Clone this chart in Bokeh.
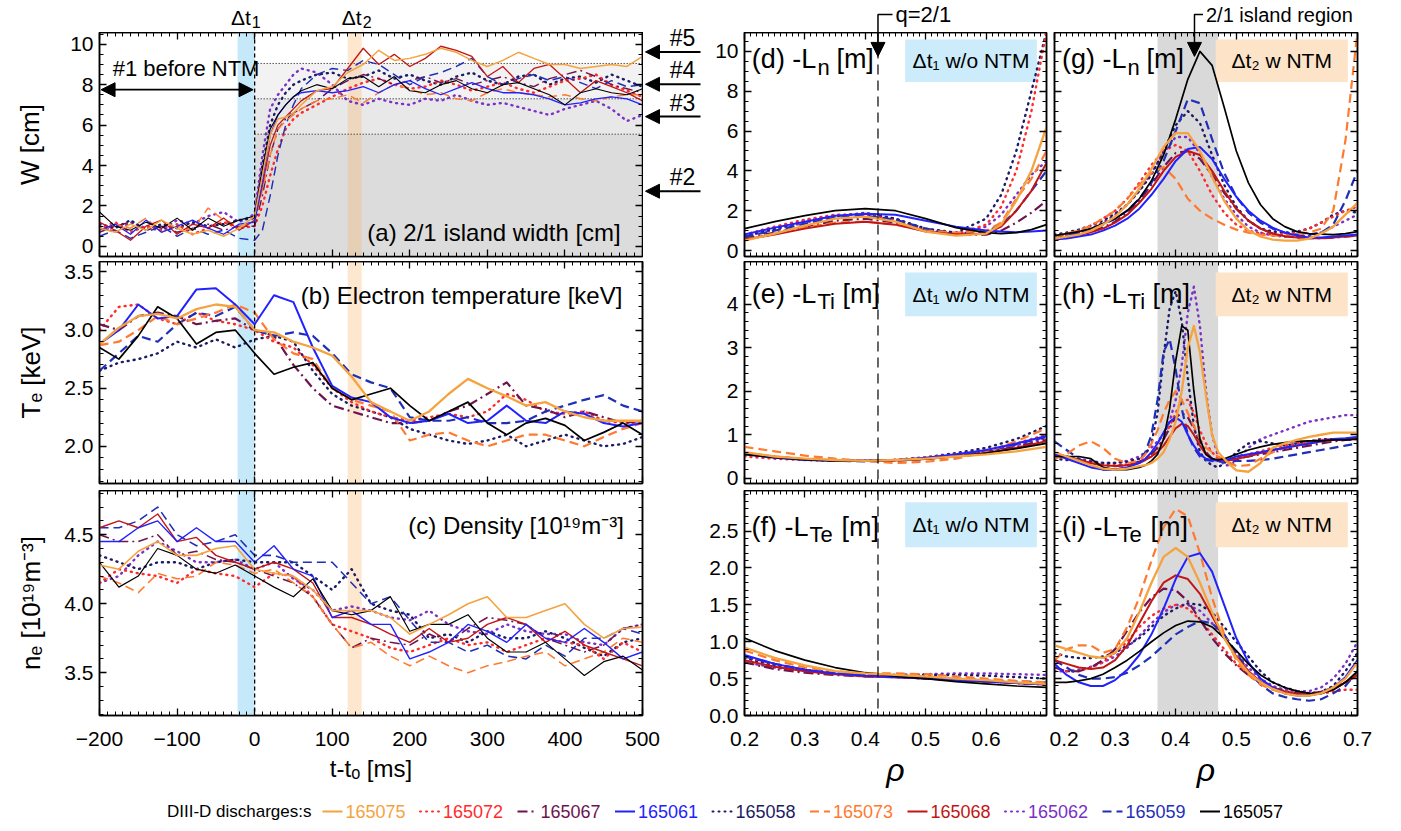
import numpy as np
from bokeh.plotting import figure
from bokeh.models import (Range1d, LinearAxis, FixedTicker, BoxAnnotation, Span, Label,
                          Arrow, NormalHead, PrintfTickFormatter)
from bokeh.layouts import column, row
from bokeh.embed import file_html
from bokeh.resources import INLINE

# ---------------------------------------------------------------- data
SHOTS = ["165075", "165072", "165067", "165061", "165058",
         "165073", "165068", "165062", "165059", "165057"]

# (a) island width W [cm] vs t-t0 [ms]
T_A = [-200, -180, -160, -140, -120, -100, -80, -60, -40, -20, 0, 10, 20, 30, 40, 50,
       60, 80, 100, 120, 140, 160, 180, 200, 220, 240, 260, 280, 300, 320, 340, 360,
       380, 400, 420, 440, 460, 480, 500]
A_165075 = [0.9, 0.7, 1.1, 0.8, 1.3, 0.9, 0.6, 0.8, 0.5, 0.9, 1.5, 3.5, 5.5, 6.3, 6.4, 6.6,
            7.0, 7.7, 7.9, 8.6, 9.0, 9.7, 9.2, 9.3, 9.5, 9.8, 9.6, 9.2, 8.9, 9.2, 9.6, 9.3,
            9.0, 9.0, 8.8, 8.9, 9.0, 8.9, 9.4]
A_165068 = [1.2, 0.8, 0.3, 1.0, 1.3, 0.6, 1.1, 0.9, 1.4, 0.8, 1.3, 3.0, 5.0, 6.0, 6.4, 6.8,
            7.2, 7.7, 7.8, 8.8, 9.8, 9.0, 9.5, 8.9, 9.3, 9.9, 9.7, 9.4, 8.4, 8.9, 8.1, 8.8,
            9.0, 8.3, 7.6, 8.2, 7.9, 7.6, 7.2]
A_165057 = [1.7, 1.0, 0.8, 1.2, 0.9, 1.4, 0.8, 1.4, 1.0, 1.3, 1.5, 3.8, 5.8, 6.5, 7.0, 7.4,
            7.7, 8.0, 7.8, 8.3, 8.4, 7.9, 8.4, 7.7, 7.6, 8.0, 8.2, 7.8, 7.6, 8.0, 8.1, 7.8,
            7.5, 7.0, 7.6, 7.8, 7.6, 7.5, 7.8]
A_165061 = [0.8, 1.1, 0.6, 1.3, 0.7, 1.0, 1.3, 0.9, 0.6, 1.1, 1.2, 3.2, 5.5, 6.5, 7.0, 7.4,
            7.6, 7.7, 7.6, 7.7, 7.9, 7.6, 8.0, 8.2, 7.8, 7.5, 7.8, 8.1, 7.8, 7.6, 7.6, 7.5,
            7.3, 7.0, 7.1, 7.3, 7.4, 7.3, 7.0]
A_165062 = [1.0, 0.7, 1.2, 0.9, 0.8, 1.3, 1.1, 1.5, 1.7, 1.2, 1.6, 4.5, 6.8, 7.5, 8.0, 8.5,
            8.8, 8.6, 8.0, 7.2, 7.0, 7.3, 7.1, 7.0, 7.3, 7.2, 7.5, 7.2, 7.0, 7.1, 6.9, 6.7,
            6.5, 6.8, 7.0, 7.2, 6.8, 6.2, 6.5]
A_165059 = [0.5, 0.8, 0.4, 0.7, 1.0, 0.5, 0.9, 0.6, 0.8, 0.4, 0.3, 0.8, 2.5, 4.5, 6.0, 7.0,
            7.8, 8.5, 8.8, 8.7, 9.2, 9.0, 8.5, 8.0, 8.4, 8.6, 8.9, 9.3, 8.4, 8.0, 8.3, 8.5,
            8.2, 8.4, 8.1, 7.8, 8.2, 7.9, 8.0]
A_165058 = [1.1, 0.9, 1.3, 0.8, 1.1, 0.9, 1.2, 1.0, 1.1, 1.3, 1.4, 4.0, 6.0, 7.0, 7.6, 8.0,
            8.2, 8.5, 8.6, 8.3, 8.4, 8.7, 8.3, 8.5, 8.2, 8.0, 8.4, 8.6, 8.2, 8.0, 8.4, 8.5,
            8.0, 8.3, 8.4, 8.1, 8.5, 8.2, 7.9]
A_165067 = [0.7, 1.0, 1.2, 0.8, 1.0, 0.7, 0.9, 1.1, 0.8, 1.0, 1.0, 2.5, 4.5, 5.8, 6.3, 6.6,
            6.8, 7.2, 7.8, 8.2, 8.5, 8.3, 8.0, 8.2, 8.4, 8.1, 8.3, 8.0, 8.2, 8.4, 8.1, 7.9,
            8.3, 8.5, 8.7, 8.4, 8.0, 7.8, 7.6]
A_165072 = [0.9, 1.2, 0.7, 1.0, 0.8, 1.1, 0.6, 0.9, 1.2, 0.9, 1.0, 2.0, 3.5, 4.8, 5.8, 6.3,
            6.6, 7.0, 7.4, 7.8, 8.1, 8.3, 8.0, 7.8, 7.9, 8.2, 8.0, 7.7, 7.9, 8.1, 7.8, 7.6,
            7.9, 8.2, 8.3, 8.5, 8.0, 7.7, 7.4]
A_165073 = [0.8, 1.1, 0.9, 1.4, 0.7, 1.0, 0.8, 1.9, 1.3, 1.0, 1.2, 2.8, 4.5, 5.8, 6.2, 6.5,
            6.8, 7.2, 7.3, 7.5, 7.1, 7.6, 8.0, 7.8, 7.5, 7.6, 7.3, 7.2, 7.6, 7.8, 7.6, 7.5,
            7.4, 7.5, 7.3, 7.2, 7.4, 7.5, 7.5]
W_LEVELS = [5.55, 7.3, 9.05]          # island-width class limits (dotted)
CLASS_MARKS = [("#5", 9.62), ("#4", 8.02), ("#3", 6.42), ("#2", 2.73)]

# (b) Te [keV] and (c) ne [1e19 m^-3]
T_BC = [-200, -175, -150, -125, -100, -75, -50, -25, 0, 25, 50, 75, 100, 125, 150, 175,
        200, 225, 250, 275, 300, 325, 350, 375, 400, 425, 450, 475, 500]
B_165061 = [2.88, 3.0, 3.22, 3.1, 3.12, 3.35, 3.36, 3.22, 3.05, 3.3, 3.24, 2.85, 2.52, 2.42, 2.38,
            2.25, 2.2, 2.22, 2.28, 2.2, 2.22, 2.35, 2.22, 2.2, 2.3, 2.28, 2.2, 2.17, 2.2]
B_165075 = [2.88, 3.02, 3.12, 3.14, 3.1, 3.18, 3.22, 3.2, 3.0, 2.98, 2.9, 2.85, 2.78, 2.6, 2.38,
            2.3, 2.22, 2.3, 2.45, 2.58, 2.5, 2.43, 2.35, 2.38, 2.3, 2.25, 2.22, 2.22, 2.22]
B_165057 = [2.85, 2.75, 2.95, 3.2, 3.1, 2.88, 2.98, 3.0, 2.8, 2.62, 2.68, 2.72, 2.5, 2.4, 2.45,
            2.5, 2.35, 2.22, 2.3, 2.38, 2.2, 2.1, 2.2, 2.24, 2.18, 2.05, 2.12, 2.2, 2.1]
B_165059 = [2.65, 2.8, 2.95, 2.9, 3.05, 3.15, 3.12, 3.2, 3.0, 2.95, 2.98, 2.95, 2.8, 2.62, 2.55,
            2.5, 2.25, 2.22, 2.22, 2.25, 2.2, 2.2, 2.22, 2.3, 2.35, 2.4, 2.44, 2.35, 2.3]
B_165073 = [2.87, 2.9, 3.0, 3.12, 3.05, 3.1, 3.15, 3.22, 3.15, 2.92, 2.8, 2.75, 2.5, 2.4, 2.35,
            2.3, 2.05, 2.1, 2.12, 2.05, 2.0, 2.05, 2.1, 2.1, 2.05, 2.0, 2.08, 2.15, 2.2]
B_165067 = [3.05, 3.0, 3.12, 3.15, 3.12, 3.05, 3.08, 3.1, 3.0, 2.95, 2.7, 2.5, 2.35, 2.3, 2.25,
            2.2, 2.2, 2.22, 2.3, 2.35, 2.45, 2.55, 2.35, 2.32, 2.25, 2.3, 2.25, 2.2, 2.22]
B_165072 = [3.0, 3.2, 3.22, 3.1, 3.05, 3.15, 3.08, 3.05, 3.0, 2.9, 2.85, 2.7, 2.5, 2.38, 2.3,
            2.25, 2.22, 2.25, 2.28, 2.25, 2.3, 2.45, 2.4, 2.3, 2.28, 2.3, 2.22, 2.2, 2.2]
B_165058 = [2.65, 2.72, 2.75, 2.8, 2.9, 2.85, 2.92, 2.85, 2.92, 2.95, 2.9, 2.65, 2.45, 2.35, 2.3,
            2.25, 2.15, 2.1, 2.05, 2.02, 2.05, 2.1, 2.0, 2.05, 2.1, 2.05, 2.0, 2.02, 2.08]

C_165068 = [4.55, 4.6, 4.55, 4.65, 4.45, 4.48, 4.35, 4.3, 4.25, 4.3, 4.25, 4.15, 3.9, 3.9, 3.85,
            3.78, 3.72, 3.82, 3.72, 3.75, 3.85, 3.9, 3.85, 3.72, 3.8, 3.7, 3.65, 3.6, 3.55]
C_165061 = [4.45, 4.45, 4.55, 4.6, 4.45, 4.55, 4.45, 4.45, 4.3, 4.42, 4.25, 4.2, 3.9, 3.95, 3.85,
            3.85, 3.6, 3.65, 3.72, 3.85, 3.8, 3.72, 3.85, 3.75, 3.72, 3.82, 3.72, 3.6, 3.65]
C_165059 = [4.55, 4.55, 4.6, 4.7, 4.5, 4.42, 4.45, 4.5, 4.35, 4.35, 4.3, 4.3, 4.3, 4.15, 4.0,
            4.05, 3.88, 3.72, 3.72, 3.65, 3.7, 3.62, 3.6, 3.7, 3.62, 3.75, 3.75, 3.82, 3.78]
C_165075 = [4.28, 4.25, 4.38, 4.45, 4.35, 4.35, 4.4, 4.42, 4.25, 4.22, 4.2, 4.1, 3.95, 3.95, 3.95,
            3.9, 3.78, 3.85, 3.92, 4.0, 4.05, 3.9, 3.9, 3.95, 4.0, 3.85, 3.75, 3.82, 3.83]
C_165057 = [4.3, 4.12, 4.2, 4.4, 4.35, 4.25, 4.22, 4.28, 4.2, 4.12, 4.05, 4.18, 3.95, 3.92, 3.95,
            4.05, 3.8, 3.85, 3.85, 3.92, 3.75, 3.65, 3.65, 3.72, 3.6, 3.48, 3.58, 3.62, 3.52]
C_165073 = [4.2, 4.15, 4.08, 4.22, 4.18, 4.2, 4.3, 4.28, 4.22, 4.25, 4.15, 4.05, 3.85, 3.68, 3.72,
            3.62, 3.55, 3.62, 3.55, 3.5, 3.55, 3.58, 3.62, 3.65, 3.55, 3.6, 3.65, 3.75, 3.72]
C_165067 = [4.5, 4.45, 4.45, 4.5, 4.35, 4.38, 4.32, 4.3, 4.25, 4.2, 4.15, 4.05, 3.85, 3.68, 3.75,
            3.72, 3.7, 3.78, 3.72, 3.82, 3.9, 3.88, 3.85, 3.75, 3.7, 3.65, 3.7, 3.82, 3.85]
C_165072 = [4.15, 4.25, 4.22, 4.2, 4.15, 4.25, 4.22, 4.2, 4.12, 4.22, 4.2, 4.05, 3.85, 3.8, 3.75,
            3.68, 3.65, 3.7, 3.75, 3.7, 3.72, 3.65, 3.7, 3.75, 3.72, 3.7, 3.6, 3.72, 3.65]
C_165058 = [4.35, 4.3, 4.25, 4.3, 4.3, 4.25, 4.3, 4.32, 4.3, 4.3, 4.3, 4.2, 4.1, 4.25, 4.0,
            3.95, 3.92, 3.75, 3.78, 3.72, 3.8, 3.75, 3.75, 3.8, 3.75, 3.68, 3.62, 3.72, 3.75]
C_165062 = [4.15, 4.2, 4.35, 4.45, 4.38, 4.3, 4.3, 4.32, 4.25, 4.3, 4.18, 4.1, 3.95, 3.98, 3.95,
            3.9, 3.88, 3.95, 3.85, 3.8, 3.78, 3.85, 3.8, 3.78, 3.78, 3.72, 3.7, 3.82, 3.85]

# (d) -Ln [m] during dt1 (without NTM)
RHO_D = [0.20, 0.25, 0.30, 0.35, 0.40, 0.45, 0.50, 0.55, 0.60, 0.625, 0.65, 0.675, 0.70]
D_165057 = [1.1, 1.45, 1.75, 2.0, 2.1, 2.0, 1.6, 1.15, 0.9, 0.85, 0.9, 1.05, 1.3]
D_165061 = [0.8, 1.15, 1.45, 1.75, 1.85, 1.8, 1.5, 1.2, 1.0, 0.95, 0.92, 0.95, 1.0]
D_165075 = [0.5, 0.85, 1.25, 1.6, 1.7, 1.45, 0.95, 0.75, 0.85, 1.3, 2.5, 4.0, 6.2]
D_165068 = [0.55, 0.8, 1.1, 1.35, 1.45, 1.3, 0.95, 0.8, 0.85, 1.2, 2.0, 3.0, 4.4]
D_165072 = [0.8, 1.2, 1.55, 1.8, 1.8, 1.5, 1.0, 0.8, 1.3, 2.2, 4.0, 7.0, 11.0]
D_165058 = [0.75, 1.1, 1.5, 1.75, 1.85, 1.6, 1.1, 0.9, 1.6, 2.8, 5.0, 8.0, 11.0]
D_165062 = [0.7, 1.05, 1.4, 1.7, 1.9, 1.6, 1.0, 0.85, 1.2, 1.8, 2.8, 3.8, 4.5]
D_165067 = [0.6, 0.9, 1.2, 1.5, 1.6, 1.4, 1.0, 0.8, 0.8, 1.0, 1.4, 1.9, 2.5]
D_165073 = [0.55, 0.85, 1.15, 1.4, 1.45, 1.3, 1.0, 0.9, 1.0, 1.4, 2.6, 3.6, 5.0]
D_165059 = [0.7, 1.0, 1.35, 1.65, 1.75, 1.55, 1.1, 0.85, 0.95, 1.3, 2.0, 3.0, 4.0]

# (e) -LTi [m] and (f) -LTe [m] during dt1
RHO_EF = [0.20, 0.25, 0.30, 0.35, 0.40, 0.45, 0.50, 0.55, 0.60, 0.65, 0.70]
E_165057 = [0.55, 0.48, 0.43, 0.4, 0.4, 0.42, 0.45, 0.5, 0.58, 0.68, 0.8]
E_165061 = [0.55, 0.47, 0.42, 0.4, 0.4, 0.42, 0.47, 0.55, 0.65, 0.8, 0.97]
E_165075 = [0.6, 0.5, 0.45, 0.42, 0.4, 0.42, 0.45, 0.5, 0.55, 0.62, 0.72]
E_165072 = [0.5, 0.45, 0.42, 0.4, 0.4, 0.42, 0.48, 0.55, 0.65, 0.8, 1.0]
E_165058 = [0.55, 0.48, 0.43, 0.4, 0.4, 0.42, 0.48, 0.58, 0.7, 0.9, 1.2]
E_165073 = [0.72, 0.62, 0.52, 0.45, 0.4, 0.35, 0.38, 0.45, 0.6, 0.85, 1.15]
E_165068 = [0.58, 0.5, 0.44, 0.41, 0.4, 0.41, 0.44, 0.5, 0.58, 0.7, 0.85]
E_165062 = [0.56, 0.49, 0.44, 0.41, 0.4, 0.42, 0.46, 0.53, 0.62, 0.76, 0.92]
E_165067 = [0.57, 0.49, 0.44, 0.41, 0.4, 0.41, 0.45, 0.51, 0.6, 0.72, 0.88]
E_165059 = [0.56, 0.48, 0.43, 0.4, 0.39, 0.4, 0.44, 0.52, 0.62, 0.78, 0.95]

F_165057 = [1.05, 0.88, 0.75, 0.65, 0.58, 0.53, 0.5, 0.46, 0.43, 0.4, 0.38]
F_165075 = [0.92, 0.78, 0.68, 0.6, 0.57, 0.55, 0.53, 0.5, 0.48, 0.45, 0.43]
F_165068 = [0.75, 0.66, 0.6, 0.56, 0.53, 0.52, 0.5, 0.48, 0.46, 0.44, 0.42]
F_165061 = [0.82, 0.7, 0.62, 0.57, 0.54, 0.52, 0.5, 0.48, 0.46, 0.44, 0.42]
F_165059 = [0.8, 0.7, 0.62, 0.57, 0.55, 0.53, 0.52, 0.5, 0.48, 0.46, 0.45]
F_165062 = [0.72, 0.65, 0.6, 0.57, 0.55, 0.55, 0.56, 0.57, 0.57, 0.56, 0.55]
F_165058 = [0.78, 0.68, 0.62, 0.58, 0.56, 0.55, 0.55, 0.55, 0.54, 0.52, 0.5]
F_165072 = [0.8, 0.7, 0.62, 0.57, 0.55, 0.53, 0.5, 0.48, 0.46, 0.44, 0.42]
F_165073 = [0.88, 0.75, 0.65, 0.6, 0.57, 0.57, 0.56, 0.53, 0.5, 0.47, 0.45]
F_165067 = [0.72, 0.63, 0.58, 0.55, 0.53, 0.52, 0.5, 0.48, 0.46, 0.44, 0.42]

# (g) -Ln and (i) -LTe during dt2 (with NTM)
RHO_GI = [0.20, 0.22, 0.24, 0.26, 0.28, 0.30, 0.32, 0.34, 0.36, 0.38, 0.40, 0.42, 0.44,
          0.46, 0.48, 0.50, 0.52, 0.54, 0.56, 0.58, 0.60, 0.62, 0.64, 0.66, 0.68, 0.70]
G_165057 = [0.75, 0.85, 0.95, 1.1, 1.35, 1.6, 2.0, 2.6, 3.5, 4.8, 6.6, 8.6, 10.0, 9.3, 7.2, 5.0,
            3.4, 2.3, 1.6, 1.2, 0.95, 0.85, 0.82, 0.8, 0.85, 0.95]
G_165061 = [0.55, 0.6, 0.7, 0.8, 1.0, 1.25, 1.6, 2.1, 2.8, 3.6, 4.5, 5.1, 5.2, 4.6, 3.6, 2.7,
            2.0, 1.5, 1.15, 0.9, 0.75, 0.65, 0.65, 0.7, 0.75, 0.8]
G_165075 = [0.6, 0.7, 0.8, 1.0, 1.3, 1.7, 2.3, 3.1, 4.1, 5.2, 5.9, 5.9, 5.0, 3.7, 2.5, 1.6,
            1.0, 0.7, 0.55, 0.5, 0.5, 0.6, 0.85, 1.2, 1.8, 2.4]
G_165059 = [0.7, 0.8, 0.9, 1.05, 1.3, 1.6, 2.0, 2.6, 3.4, 4.5, 6.0, 7.6, 7.4, 5.6, 3.9, 2.7,
            1.9, 1.4, 1.1, 0.9, 0.8, 0.8, 0.9, 1.3, 2.5, 4.0]
G_165058 = [0.8, 0.9, 1.05, 1.25, 1.5, 1.85, 2.3, 3.0, 3.8, 5.0, 6.3, 7.0, 6.4, 4.8, 3.3, 2.2,
            1.5, 1.1, 0.95, 0.9, 0.95, 1.1, 1.4, 1.8, 2.0, 1.9]
G_165072 = [0.7, 0.85, 1.0, 1.25, 1.6, 2.0, 2.6, 3.4, 4.3, 5.0, 5.3, 5.0, 4.0, 2.8, 1.9, 1.3,
            1.0, 0.85, 0.8, 0.82, 0.9, 1.1, 1.4, 1.7, 2.0, 2.2]
G_165062 = [0.65, 0.75, 0.9, 1.1, 1.4, 1.8, 2.3, 3.0, 3.9, 4.9, 5.7, 5.7, 4.9, 3.7, 2.6, 1.8,
            1.2, 0.9, 0.75, 0.7, 0.7, 0.75, 0.9, 1.2, 1.5, 1.8]
G_165067 = [0.6, 0.7, 0.8, 0.95, 1.15, 1.45, 1.9, 2.5, 3.3, 4.2, 4.9, 5.0, 4.6, 3.8, 2.9, 2.1,
            1.5, 1.1, 0.85, 0.72, 0.65, 0.62, 0.62, 0.65, 0.7, 0.75]
G_165073 = [0.7, 0.85, 1.0, 1.25, 1.6, 2.0, 2.6, 3.3, 3.9, 4.2, 3.6, 2.6, 2.0, 1.6, 1.3, 1.05,
            0.9, 0.8, 0.75, 0.75, 0.8, 0.9, 1.1, 2.0, 5.5, 11.0]
G_165068 = [0.6, 0.68, 0.78, 0.92, 1.1, 1.4, 1.8, 2.4, 3.1, 4.0, 4.7, 5.0, 4.8, 4.0, 3.0, 2.1,
            1.5, 1.1, 0.85, 0.72, 0.65, 0.62, 0.62, 0.65, 0.7, 0.75]

I_165057 = [0.45, 0.45, 0.47, 0.5, 0.56, 0.65, 0.75, 0.87, 1.0, 1.12, 1.22, 1.28, 1.27, 1.2,
            1.05, 0.88, 0.7, 0.55, 0.45, 0.38, 0.33, 0.3, 0.3, 0.35, 0.45, 0.6]
I_165061 = [0.7, 0.55, 0.45, 0.4, 0.4, 0.48, 0.62, 0.82, 1.1, 1.45, 1.85, 2.15, 2.2, 1.95,
            1.5, 1.05, 0.72, 0.5, 0.38, 0.3, 0.27, 0.27, 0.3, 0.38, 0.52, 0.75]
I_165075 = [0.95, 0.9, 0.85, 0.8, 0.78, 0.85, 1.05, 1.4, 1.8, 2.15, 2.27, 2.15, 1.8, 1.4,
            1.05, 0.78, 0.58, 0.45, 0.36, 0.3, 0.27, 0.27, 0.3, 0.38, 0.5, 0.72]
I_165073 = [0.75, 0.9, 0.95, 0.95, 0.85, 0.9, 1.2, 1.6, 2.1, 2.55, 2.8, 2.7, 2.2, 1.6,
            1.1, 0.75, 0.55, 0.42, 0.35, 0.3, 0.28, 0.28, 0.3, 0.35, 0.45, 0.55]
I_165068 = [0.75, 0.7, 0.65, 0.63, 0.65, 0.75, 0.95, 1.25, 1.55, 1.8, 1.9, 1.85, 1.65, 1.35,
            1.05, 0.8, 0.6, 0.46, 0.38, 0.32, 0.29, 0.28, 0.3, 0.35, 0.45, 0.55]
I_165067 = [0.65, 0.6, 0.6, 0.65, 0.75, 0.9, 1.15, 1.4, 1.6, 1.72, 1.7, 1.55, 1.3, 1.05,
            0.85, 0.68, 0.55, 0.45, 0.38, 0.33, 0.3, 0.3, 0.32, 0.38, 0.45, 0.55]
I_165058 = [0.85, 0.8, 0.78, 0.78, 0.8, 0.85, 0.95, 1.05, 1.2, 1.35, 1.45, 1.52, 1.5, 1.4,
            1.2, 1.0, 0.8, 0.6, 0.45, 0.38, 0.33, 0.3, 0.32, 0.4, 0.6, 0.85]
I_165062 = [0.6, 0.6, 0.62, 0.66, 0.72, 0.8, 0.92, 1.08, 1.25, 1.4, 1.5, 1.5, 1.42, 1.25,
            1.05, 0.85, 0.65, 0.5, 0.4, 0.35, 0.33, 0.33, 0.38, 0.5, 0.7, 1.0]
I_165072 = [0.65, 0.6, 0.6, 0.65, 0.72, 0.85, 1.0, 1.2, 1.35, 1.45, 1.5, 1.45, 1.3, 1.1,
            0.9, 0.7, 0.55, 0.45, 0.38, 0.33, 0.3, 0.3, 0.3, 0.32, 0.35, 0.35]
I_165059 = [0.75, 0.65, 0.55, 0.5, 0.5, 0.52, 0.58, 0.68, 0.8, 0.95, 1.1, 1.2, 1.28, 1.25,
            1.1, 0.85, 0.6, 0.42, 0.3, 0.25, 0.22, 0.2, 0.22, 0.3, 0.4, 0.6]

# (h) -LTi during dt2 (finer grid around the island)
RHO_H = [0.20, 0.22, 0.24, 0.26, 0.28, 0.30, 0.32, 0.34, 0.35, 0.36, 0.37, 0.38, 0.39, 0.40,
         0.41, 0.42, 0.43, 0.44, 0.45, 0.46, 0.47, 0.48, 0.49, 0.50, 0.52, 0.54, 0.56, 0.58,
         0.60, 0.62, 0.64, 0.66, 0.68, 0.70]
H_165057 = [0.5, 0.5, 0.5, 0.45, 0.25, 0.2, 0.2, 0.25, 0.3, 0.4, 0.55, 0.9, 1.6, 2.7, 3.5, 3.4,
            2.0, 0.9, 0.55, 0.45, 0.42, 0.45, 0.5, 0.55, 0.65, 0.72, 0.78, 0.82, 0.85, 0.86,
            0.86, 0.88, 0.88, 0.9]
H_165075 = [0.6, 0.5, 0.4, 0.3, 0.22, 0.2, 0.22, 0.28, 0.3, 0.35, 0.45, 0.6, 0.9, 1.3, 2.0, 3.0,
            3.5, 2.9, 1.9, 1.0, 0.6, 0.45, 0.3, 0.18, 0.15, 0.35, 0.7, 0.8, 0.88, 0.95, 1.0,
            1.05, 1.05, 1.05]
H_165061 = [0.55, 0.45, 0.35, 0.25, 0.2, 0.2, 0.25, 0.35, 0.45, 0.6, 0.8, 1.05, 1.3, 1.4, 1.3,
            1.0, 0.75, 0.55, 0.45, 0.42, 0.4, 0.42, 0.45, 0.5, 0.55, 0.6, 0.65, 0.7, 0.75, 0.8,
            0.85, 0.9, 0.92, 0.95]
H_165059 = [0.85, 0.65, 0.45, 0.3, 0.2, 0.2, 0.25, 0.4, 0.6, 1.0, 1.8, 2.9, 3.2, 2.5, 1.6, 1.0,
            0.7, 0.5, 0.42, 0.4, 0.38, 0.38, 0.38, 0.4, 0.4, 0.42, 0.45, 0.5, 0.55, 0.6, 0.65,
            0.7, 0.75, 0.8]
H_165058 = [0.45, 0.42, 0.4, 0.38, 0.35, 0.35, 0.38, 0.45, 0.55, 0.8, 1.5, 2.8, 3.9, 4.3, 3.6,
            2.3, 1.2, 0.6, 0.4, 0.3, 0.25, 0.35, 0.45, 0.6, 0.8, 0.85, 0.8, 0.75, 0.8, 0.85,
            0.9, 0.9, 0.9, 0.9]
H_165062 = [0.55, 0.5, 0.45, 0.4, 0.35, 0.35, 0.4, 0.5, 0.6, 0.7, 0.85, 1.0, 1.3, 1.8, 2.6,
            3.8, 4.4, 3.5, 2.0, 1.0, 0.5, 0.3, 0.3, 0.4, 0.7, 0.9, 1.0, 1.1, 1.2, 1.3, 1.35,
            1.4, 1.45, 1.45]
H_165072 = [0.5, 0.45, 0.4, 0.35, 0.3, 0.3, 0.32, 0.38, 0.45, 0.55, 0.7, 0.9, 1.2, 1.5, 1.8,
            1.8, 1.5, 1.1, 0.8, 0.6, 0.45, 0.4, 0.42, 0.45, 0.55, 0.62, 0.7, 0.75, 0.8, 0.85,
            0.88, 0.9, 0.9, 0.92]
H_165073 = [0.45, 0.55, 0.75, 0.85, 0.7, 0.45, 0.35, 0.4, 0.55, 0.8, 1.1, 1.5, 1.8, 2.0, 1.8,
            1.5, 1.2, 0.9, 0.7, 0.6, 0.5, 0.42, 0.35, 0.28, 0.3, 0.45, 0.6, 0.7, 0.75, 0.8,
            0.85, 0.88, 0.9, 0.95]
H_165067 = [0.55, 0.5, 0.42, 0.35, 0.3, 0.28, 0.3, 0.38, 0.45, 0.55, 0.7, 0.9, 1.15, 1.4, 1.5,
            1.4, 1.15, 0.85, 0.6, 0.45, 0.4, 0.4, 0.42, 0.45, 0.5, 0.55, 0.6, 0.65, 0.7, 0.75,
            0.8, 0.85, 0.88, 0.9]
H_165068 = [0.55, 0.5, 0.42, 0.35, 0.3, 0.28, 0.3, 0.35, 0.42, 0.5, 0.6, 0.75, 0.95, 1.15,
            1.25, 1.2, 1.0, 0.75, 0.55, 0.45, 0.4, 0.4, 0.42, 0.45, 0.5, 0.58, 0.65, 0.7, 0.75,
            0.8, 0.85, 0.88, 0.9, 0.9]

Q21_RHO = 0.421                # q=2/1 surface
ISLAND_PTR = 0.431             # pointer into the island region
ISLAND = (0.37, 0.47)          # 2/1 island region
BAND_T1 = (-22, 0)             # dt1 window [ms]
BAND_T2 = (120, 138)           # dt2 window [ms]

# ---------------------------------------------------------------- style
FONT = "Liberation Sans"
COLORS = {"165075": "#f5a33f", "165072": "#ff2b2b", "165067": "#6c154f",
          "165061": "#2222ff", "165058": "#1c1c66", "165073": "#ff7a30",
          "165068": "#c21515", "165062": "#7b30c6", "165059": "#1f2fb8",
          "165057": "#000000"}
DASH = {"165075": "solid", "165072": "1 5", "165067": "10 4 2 4", "165061": "solid",
        "165058": "1 5", "165073": "9 5", "165068": "solid", "165062": "1 5",
        "165059": "9 5", "165057": "solid"}
WIDTH = {"165075": 2.3, "165072": 2.4, "165067": 2.2, "165061": 2.0, "165058": 2.4,
         "165073": 2.2, "165068": 2.0, "165062": 2.4, "165059": 2.2, "165057": 1.7}
ORDER = ["165062", "165058", "165072", "165067", "165059", "165073", "165068",
         "165061", "165057", "165075"]

PANEL_A = {"165075": A_165075, "165072": A_165072, "165067": A_165067, "165061": A_165061,
           "165058": A_165058, "165073": A_165073, "165068": A_165068, "165062": A_165062,
           "165059": A_165059, "165057": A_165057}
PANEL_B = {"165075": B_165075, "165072": B_165072, "165067": B_165067, "165061": B_165061,
           "165058": B_165058, "165073": B_165073, "165059": B_165059, "165057": B_165057}
PANEL_C = {"165075": C_165075, "165072": C_165072, "165067": C_165067, "165061": C_165061,
           "165058": C_165058, "165073": C_165073, "165068": C_165068, "165062": C_165062,
           "165059": C_165059, "165057": C_165057}
PANEL_D = {"165075": D_165075, "165072": D_165072, "165067": D_165067, "165061": D_165061,
           "165058": D_165058, "165073": D_165073, "165068": D_165068, "165062": D_165062,
           "165059": D_165059, "165057": D_165057}
PANEL_E = {"165075": E_165075, "165072": E_165072, "165067": E_165067, "165061": E_165061,
           "165058": E_165058, "165073": E_165073, "165068": E_165068, "165062": E_165062,
           "165059": E_165059, "165057": E_165057}
PANEL_F = {"165075": F_165075, "165072": F_165072, "165067": F_165067, "165061": F_165061,
           "165058": F_165058, "165073": F_165073, "165068": F_165068, "165062": F_165062,
           "165059": F_165059, "165057": F_165057}
PANEL_G = {"165075": G_165075, "165072": G_165072, "165067": G_165067, "165061": G_165061,
           "165058": G_165058, "165073": G_165073, "165068": G_165068, "165062": G_165062,
           "165059": G_165059, "165057": G_165057}
PANEL_H = {"165075": H_165075, "165072": H_165072, "165067": H_165067, "165061": H_165061,
           "165058": H_165058, "165073": H_165073, "165068": H_165068, "165062": H_165062,
           "165059": H_165059, "165057": H_165057}
PANEL_I = {"165075": I_165075, "165072": I_165072, "165067": I_165067, "165061": I_165061,
           "165058": I_165058, "165073": I_165073, "165068": I_165068, "165062": I_165062,
           "165059": I_165059, "165057": I_165057}

# ---------------------------------------------------------------- geometry (px)
BL_L, FW_L = 99, 543          # left column frame
SIDE_W = 59                   # strip right of (a) holding the class arrows
BR_L = 1 + SIDE_W             # right border of (b), (c)
BL_M, FW_M, BR_M = 42, 302, 3
BL_R, FW_R, BR_R = 5, 303, 20
TOP_H = 32                    # strip above the top row
ROW1 = (0, 224, 5)            # (top border, frame h, bottom border)
ROW2 = (0, 222, 7)
ROW3 = (0, 225, 86)
LEG_H = 20
W_L = BL_L + FW_L + BR_L
W_M = BL_M + FW_M + BR_M
W_R = BL_R + FW_R + BR_R
TOTAL_W = W_L + W_M + W_R


def as_range(r):
    return r if isinstance(r, Range1d) else Range1d(*r)


def make_fig(xr, yr, width, bl, br, rowspec):
    bt, fh, bb = rowspec
    p = figure(width=width, height=fh + bt + bb, x_range=as_range(xr), y_range=as_range(yr),
               output_backend="svg", toolbar_location=None,
               x_axis_location=None, y_axis_location=None,
               min_border_left=bl, min_border_right=br, min_border_top=bt,
               min_border_bottom=bb)
    p.outline_line_color = "black"
    p.outline_line_width = 1.5
    p.background_fill_color = "white"
    p.border_fill_color = "white"
    p.xgrid.visible = False
    p.ygrid.visible = False
    return p


def plain_fig(width, height, xr, yr, bl=0, br=0, bb=0):
    p = figure(width=width, height=height, x_range=xr, y_range=yr, output_backend="svg",
               toolbar_location=None, x_axis_location=None, y_axis_location=None,
               min_border=0, min_border_left=bl, min_border_right=br, min_border_bottom=bb)
    p.outline_line_color = None
    p.xgrid.visible = False
    p.ygrid.visible = False
    return p


def style_axis(ax, show, fmt=None, title=None, size="26px", standoff_t=10,
               style="normal", standoff=6):
    ax.axis_line_color = "black"
    ax.axis_line_width = 1.5
    ax.major_tick_line_color = "black"
    ax.major_tick_line_width = 1.3
    ax.minor_tick_line_color = "black"
    ax.minor_tick_line_width = 1.0
    ax.major_tick_in = 7
    ax.major_tick_out = 0
    ax.minor_tick_in = 4
    ax.minor_tick_out = 0
    if fmt:
        ax.formatter = PrintfTickFormatter(format=fmt)
    if show:
        ax.major_label_text_font = FONT
        ax.major_label_text_font_size = "21px"
        ax.major_label_text_color = "black"
        ax.major_label_standoff = standoff
    else:
        ax.major_label_text_font_size = "0px"
        ax.major_label_text_color = None
        ax.major_label_standoff = 0
    if title:
        ax.axis_label = title
        ax.axis_label_text_font = FONT
        ax.axis_label_text_font_size = size
        ax.axis_label_text_font_style = style
        ax.axis_label_standoff = standoff_t
        ax.axis_label_text_color = "black"


def add_axes(p, xt, yt, xshow, yshow, xfmt=None, yfmt=None, xtitle=None, ytitle=None,
             xt_standoff=6, yt_standoff=10, xstyle="normal", xsize="24px"):
    b = LinearAxis(ticker=xt)
    style_axis(b, xshow, xfmt, xtitle, size=xsize, standoff_t=xt_standoff, style=xstyle,
               standoff=16)
    p.add_layout(b, "below")
    t = LinearAxis(ticker=xt)
    style_axis(t, False)
    p.add_layout(t, "above")
    l = LinearAxis(ticker=yt)
    style_axis(l, yshow, yfmt, ytitle, size="26px", standoff_t=yt_standoff)
    p.add_layout(l, "left")
    r = LinearAxis(ticker=yt)
    style_axis(r, False)
    p.add_layout(r, "right")


def draw_lines(p, xs, panel, scale=1.0):
    for s in ORDER:
        if s not in panel:
            continue
        dotted = DASH[s] == "1 5"
        w = WIDTH[s] * (1.0 if dotted else scale)
        p.line(xs, panel[s], line_color=COLORS[s], line_width=w, line_dash=DASH[s],
               line_cap="round" if dotted else "butt", line_join="round")


def label(p, x, y, text, size="24px", align="left", baseline="middle", color="black",
          x_off=0, y_off=0, style="normal"):
    p.add_layout(Label(x=x, y=y, text=text, text_font=FONT, text_font_size=size,
                       text_align=align, text_baseline=baseline, text_color=color,
                       x_offset=x_off, y_offset=y_off, text_font_style=style))


def head():
    return NormalHead(size=14, fill_color="black", line_color="black", line_width=1)


def arrow(p, x0, y0, x1, y1, end=True, start=False, w=1.8):
    p.add_layout(Arrow(x_start=x0, y_start=y0, x_end=x1, y_end=y1, line_color="black",
                       line_width=w, end=head() if end else None,
                       start=head() if start else None))


def ext_range(lo, hi, before, frame, after):
    s = (hi - lo) / frame
    return Range1d(lo - before * s, hi + after * s)


# ---------------------------------------------------------------- tickers
XT_T = FixedTicker(ticks=[-200, -100, 0, 100, 200, 300, 400, 500],
                   minor_ticks=list(range(-200, 501, 10)))
YT_A = FixedTicker(ticks=[0, 2, 4, 6, 8, 10], minor_ticks=list(np.arange(0, 10.6, 0.5)))
YT_B = FixedTicker(ticks=[2.0, 2.5, 3.0, 3.5],
                   minor_ticks=list(np.round(np.arange(1.7, 3.6, 0.1), 2)))
YT_C = FixedTicker(ticks=[3.5, 4.0, 4.5],
                   minor_ticks=list(np.round(np.arange(3.2, 4.85, 0.1), 2)))
XT_D = FixedTicker(ticks=[0.2, 0.3, 0.4, 0.5, 0.6],
                   minor_ticks=list(np.round(np.arange(0.2, 0.705, 0.01), 3)))
XT_G = FixedTicker(ticks=[0.2, 0.3, 0.4, 0.5, 0.6, 0.7],
                   minor_ticks=list(np.round(np.arange(0.2, 0.705, 0.01), 3)))
YT_DG = FixedTicker(ticks=[0, 2, 4, 6, 8, 10], minor_ticks=list(np.arange(0, 11.1, 0.5)))
YT_EH = FixedTicker(ticks=[0, 1, 2, 3, 4], minor_ticks=list(np.round(np.arange(0, 5.01, 0.2), 2)))
YT_FI = FixedTicker(ticks=[0.0, 0.5, 1.0, 1.5, 2.0, 2.5],
                    minor_ticks=list(np.round(np.arange(0, 3.06, 0.1), 2)))

XR_T = (-200, 500)
YR_A, YR_B, YR_C = (-0.5, 10.58), (1.68, 3.59), (3.19, 4.82)
XR_R = (0.2, 0.7)
YR_DG, YR_EH, YR_FI = (-0.3, 10.95), (-0.12, 4.98), (0.0, 3.05)

# ---------------------------------------------------------------- left column
pa = make_fig(XR_T, YR_A, BL_L + FW_L + 1, BL_L, 1, ROW1)
pb = make_fig(XR_T, YR_B, W_L, BL_L, BR_L, ROW2)
pc = make_fig(XR_T, YR_C, W_L, BL_L, BR_L, ROW3)
add_axes(pa, XT_T, YT_A, False, True, ytitle="W [cm]", yt_standoff=22)
add_axes(pb, XT_T, YT_B, False, True, yfmt="%.1f", ytitle="Tₑ [keV]", yt_standoff=15)
add_axes(pc, XT_T, YT_C, True, True, yfmt="%.1f", xtitle="t-tₒ [ms]",
         ytitle="nₑ [10¹⁹m⁻³]", yt_standoff=15, xt_standoff=6)

# island-width classes in (a)
pa.add_layout(BoxAnnotation(left=0, right=500, top=W_LEVELS[0], fill_color="#dcdcdc",
                            fill_alpha=1, line_color=None, level="underlay"))
pa.add_layout(BoxAnnotation(left=0, right=500, bottom=W_LEVELS[0], top=W_LEVELS[1],
                            fill_color="#e8e8e8", fill_alpha=1, line_color=None,
                            level="underlay"))
pa.add_layout(BoxAnnotation(left=0, right=500, bottom=W_LEVELS[1], top=W_LEVELS[2],
                            fill_color="#f2f2f2", fill_alpha=1, line_color=None,
                            level="underlay"))
pa.segment(x0=0, x1=500, y0=W_LEVELS, y1=W_LEVELS, line_color="black", line_width=1.0,
           line_dash="1 2")

for p in (pa, pb, pc):
    p.add_layout(BoxAnnotation(left=BAND_T1[0], right=BAND_T1[1], fill_color="#c6e9fa",
                               fill_alpha=1, line_color=None, level="underlay"))
    p.add_layout(BoxAnnotation(left=BAND_T2[0], right=BAND_T2[1], fill_color="#f9b66e",
                               fill_alpha=0.33, line_color=None, level="underlay"))
    p.add_layout(Span(location=0, dimension="height", line_color="black", line_width=1.3,
                      line_dash="4 3"))

draw_lines(pa, T_A, PANEL_A, 0.65)
draw_lines(pb, T_BC, PANEL_B, 1.0)
draw_lines(pc, T_BC, PANEL_C, 0.7)

label(pa, 472, 0.7, "(a) 2/1 island width [cm]", align="right")
label(pb, 474, 3.30, "(b) Electron temperature [keV]", align="right")
label(pc, 476, 4.57, "(c) Density [10¹⁹m⁻³]", align="right")
label(pa, -183, 8.8, "#1 before NTM", size="22px")
arrow(pa, -198, 7.75, -2, 7.75, end=True, start=True)

# class arrows (#5..#2) right of (a): tall strip sharing (a)'s vertical scale
SIDE_H = TOP_H + ROW1[1] + ROW1[2]
side = plain_fig(SIDE_W, SIDE_H, Range1d(0, SIDE_W),
                 ext_range(YR_A[0], YR_A[1], 0, ROW1[1], TOP_H), bb=ROW1[2])
for txt, yy in CLASS_MARKS:
    arrow(side, SIDE_W - 2, yy, 2, yy, w=2.0)
    label(side, 39, yy, txt, size="23px", align="center", baseline="bottom", y_off=1)

# ---------------------------------------------------------------- right columns
pd_ = make_fig(XR_R, YR_DG, W_M, BL_M, BR_M, ROW1)
pe = make_fig(XR_R, YR_EH, W_M, BL_M, BR_M, ROW2)
pf = make_fig(XR_R, YR_FI, W_M, BL_M, BR_M, ROW3)
pg = make_fig(XR_R, YR_DG, W_R, BL_R, BR_R, ROW1)
ph = make_fig(XR_R, YR_EH, W_R, BL_R, BR_R, ROW2)
pi = make_fig(XR_R, YR_FI, W_R, BL_R, BR_R, ROW3)
add_axes(pd_, XT_D, YT_DG, False, True)
add_axes(pe, XT_D, YT_EH, False, True)
add_axes(pf, XT_D, YT_FI, True, True, xfmt="%.1f", yfmt="%.1f", xtitle="ρ",
         xstyle="italic", xsize="32px", xt_standoff=3)
add_axes(pg, XT_G, YT_DG, False, False)
add_axes(ph, XT_G, YT_EH, False, False)
add_axes(pi, XT_G, YT_FI, True, False, xfmt="%.1f", xtitle="ρ", xstyle="italic",
         xsize="32px", xt_standoff=3)

for p in (pg, ph, pi):
    p.add_layout(BoxAnnotation(left=ISLAND[0], right=ISLAND[1], fill_color="#d9d9d9",
                               fill_alpha=1, line_color=None, level="underlay"))
for p in (pd_, pe, pf):
    p.add_layout(Span(location=Q21_RHO, dimension="height", line_color="black",
                      line_width=1.2, line_dash="10 6"))

# condition boxes
BOX_Y = {"d": (8.47, 10.6), "e": (3.72, 4.73), "f": (2.28, 2.89)}
for p, key in ((pd_, "d"), (pe, "e"), (pf, "f")):
    lo, hi = BOX_Y[key]
    p.add_layout(BoxAnnotation(left=0.466, right=0.684, bottom=lo, top=hi,
                               fill_color="#ccecfb", fill_alpha=1, line_color=None,
                               level="underlay"))
    label(p, 0.575, (lo + hi) / 2, "Δt₁ w/o NTM", size="21px", align="center")
for p, key in ((pg, "d"), (ph, "e"), (pi, "f")):
    lo, hi = BOX_Y[key]
    p.add_layout(BoxAnnotation(left=0.466, right=0.684, bottom=lo, top=hi,
                               fill_color="#fde3c8", fill_alpha=1, line_color=None,
                               level="underlay"))
    label(p, 0.575, (lo + hi) / 2, "Δt₂ w NTM", size="21px", align="center")

draw_lines(pd_, RHO_D, PANEL_D)
draw_lines(pe, RHO_EF, PANEL_E)
draw_lines(pf, RHO_EF, PANEL_F)
draw_lines(pg, RHO_GI, PANEL_G)
draw_lines(ph, RHO_H, PANEL_H)
draw_lines(pi, RHO_GI, PANEL_I)

# panel titles with subscripts: (fig, main, sub, anchor rho, y, sub width px)
PANEL_TXT = [(pd_, "(d) -L", "n", 0.319, 9.6, 13), (pe, "(e) -L", "Ti", 0.319, 4.24, 19),
             (pf, "(f) -L", "Te", 0.306, 2.56, 26), (pg, "(g) -L", "n", 0.319, 9.6, 13),
             (ph, "(h) -L", "Ti", 0.319, 4.24, 19), (pi, "(i) -L", "Te", 0.304, 2.56, 26)]
for p, main, sub, ax, yy, sw in PANEL_TXT:
    label(p, ax, yy, main, size="27px", align="right")
    label(p, ax, yy, sub, size="22px", align="left", x_off=1, y_off=-8)
    label(p, ax, yy, "[m]", size="27px", align="left", x_off=sw + 7)

# pointers entering the top panels
arrow(pd_, Q21_RHO, YR_DG[1], Q21_RHO, 9.75, w=1.5)
arrow(pg, ISLAND_PTR, YR_DG[1], ISLAND_PTR, 9.75, w=1.5)

# ---------------------------------------------------------------- strips above the top row
# (each strip is stacked over its panel, so its frame lines up with the panel frame)
top_l = plain_fig(BL_L + FW_L + 1, TOP_H, pa.x_range, Range1d(0, TOP_H), bl=BL_L, br=1)
top_m = plain_fig(W_M, TOP_H, pd_.x_range, Range1d(0, TOP_H), bl=BL_M, br=BR_M)
top_r = plain_fig(W_R, TOP_H, pg.x_range, Range1d(0, TOP_H), bl=BL_R, br=BR_R)
for t_edge, sub in ((-5, "1"), (138, "2")):
    label(top_l, t_edge, 15, "Δt", size="21px", align="right")
    label(top_l, t_edge, 15, sub, size="16px", align="left", x_off=1, y_off=-4)
for p, xv, txt, fs in ((top_m, Q21_RHO, "q=2/1", "22px"),
                       (top_r, ISLAND_PTR, "2/1 island region", "20px")):
    p.line([xv, xv, 0.445], [0, 18, 18], line_color="black", line_width=1.5)
    label(p, 0.450, 18, txt, size=fs)

# ---------------------------------------------------------------- legend strip
leg = plain_fig(TOTAL_W, LEG_H, Range1d(0, TOTAL_W), Range1d(0, LEG_H))
label(leg, 311, LEG_H / 2, "DIII-D discharges:s", size="17px", align="right")
for i, s in enumerate(SHOTS):
    x0 = 322 + 97.5 * i
    dotted = DASH[s] == "1 5"
    leg.line([x0, x0 + 20], [LEG_H / 2, LEG_H / 2], line_color=COLORS[s], line_width=2.0,
             line_dash=DASH[s], line_cap="round" if dotted else "butt")
    label(leg, x0 + 23, LEG_H / 2, s, size="18px", color=COLORS[s])

top_group = row(column(top_l, pa), side, column(top_m, pd_), column(top_r, pg))
layout = column(top_group, row(pb, pe, ph), row(pc, pf, pi), leg)
open("out.html", "w").write(file_html(layout, INLINE, title="NTM island profiles"))
